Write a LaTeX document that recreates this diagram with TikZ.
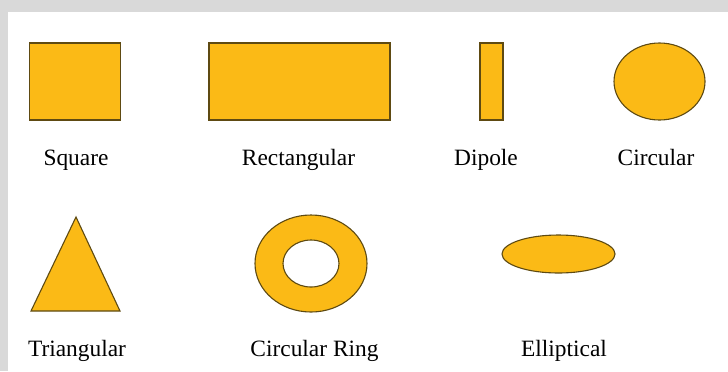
\documentclass[tikz,border=0pt]{standalone}
\usepackage{fontspec}
\setmainfont{Liberation Serif}
\usetikzlibrary{shapes.geometric}
\definecolor{patchfill}{HTML}{FBBA16}
\definecolor{patchedge}{HTML}{5E4A12}
\definecolor{framegray}{HTML}{D9D9D9}

\begin{document}
\begin{tikzpicture}[x=0.5pt,y=-0.5pt,
  patch/.style={draw=patchedge,fill=patchfill,line width=0.55pt,inner sep=0pt},
  caption/.style={font=\fontsize{11.7}{14}\selectfont,inner sep=0pt,anchor=base}]
% frame
\fill[framegray] (0,0) rectangle (728,371);
\fill[white] (8,12) rectangle (728,371);
\useasboundingbox (0,0) rectangle (728,371);
% top row
\node[patch,rectangle,minimum width=45.5pt,minimum height=38.5pt] (square) at (75,81.5) {};
\node[patch,rectangle,minimum width=90.5pt,minimum height=38.5pt] (rect) at (299.5,81.5) {};
\node[patch,rectangle,minimum width=11.5pt,minimum height=38.5pt] (dipole) at (491.5,81.5) {};
\node[patch,ellipse,minimum width=45.5pt,minimum height=38.5pt] (circ) at (659.5,81.5) {};
% bottom row
\draw[patch] (76,217) coordinate (tri-top) -- (120,311) -- (31,311) -- cycle;
\draw[patch,even odd rule] (311,263.5) coordinate (ring)
  ellipse [x radius=28pt,y radius=24.25pt]
  (311,263.5) ellipse [x radius=14pt,y radius=11.75pt];
\node[patch,ellipse,minimum width=56.5pt,minimum height=19pt] (ellip) at (558.5,254) {};
% captions
\foreach \n/\x/\y/\txt in {sq/76/165/Square,re/298.5/165/Rectangular,di/486/165/Dipole,ci/656/165/Circular,
  tr/77/356/Triangular,ri/314.5/356/Circular Ring,el/564/356/Elliptical}{
  \node[caption] (lab-\n) at (\x,\y) {\txt};
}
\end{tikzpicture}
\end{document}
